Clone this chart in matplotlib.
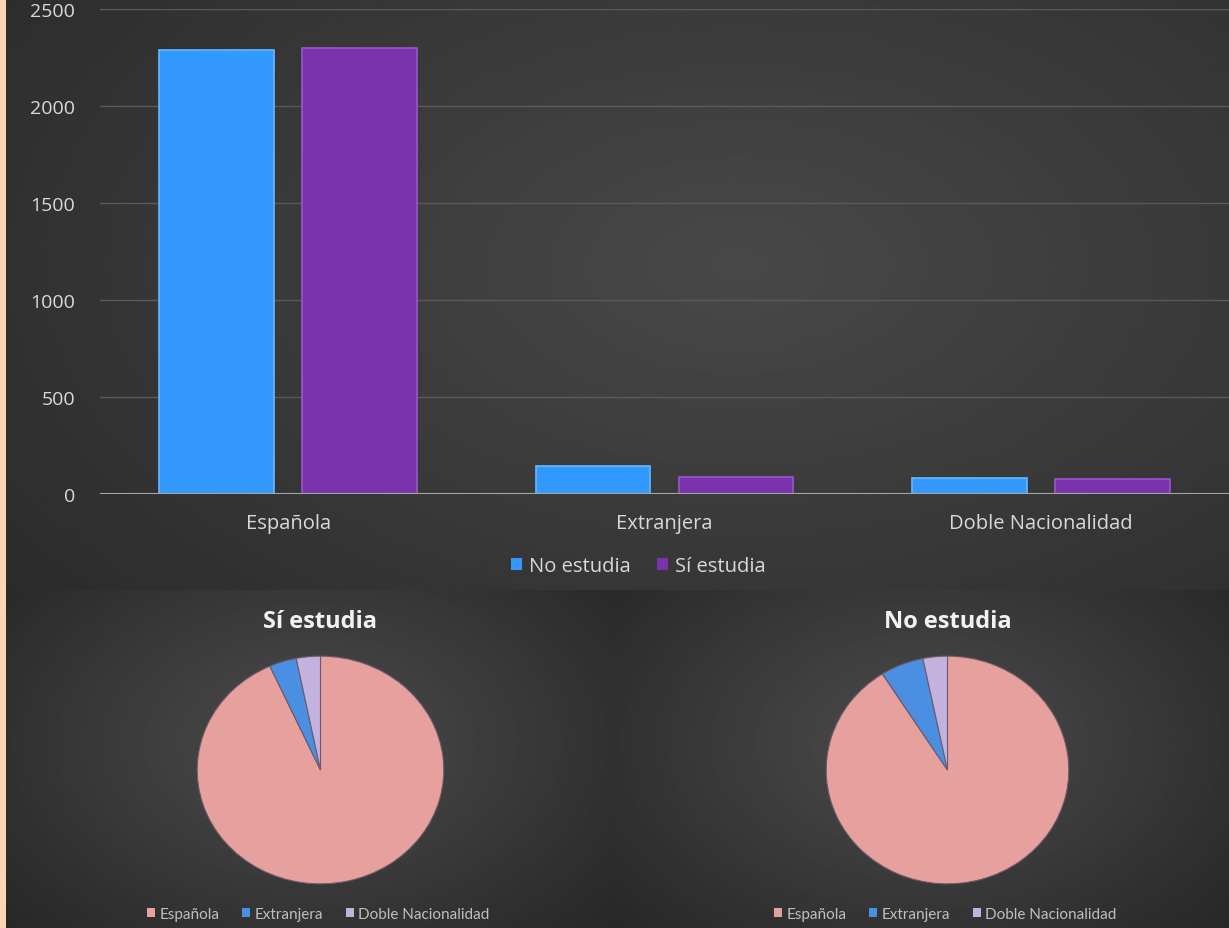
import numpy as np
import matplotlib
matplotlib.use("Agg")
import matplotlib.pyplot as plt
from matplotlib.patches import Rectangle, Patch

# Data
categories = ['Española', 'Extranjera', 'Doble Nacionalidad']
no_estudia = [2290, 145, 82]
si_estudia = [2300, 88, 78]
y_ticks = [0, 500, 1000, 1500, 2000, 2500]

bar_colors = {'No estudia': '#3399ff', 'Sí estudia': '#7a33ad'}
pie_colors = ['#e6a19f', '#4a8fe2', '#c3b1de']

plt.rcParams['font.family'] = ['Open Sans', 'DejaVu Sans']
W, H = 1229, 929
fig = plt.figure(figsize=(W / 100, H / 100), dpi=100, facecolor='#333333')


def px_axes(x0, y0, x1, y1, **kw):
    # axes from pixel box (top-left origin)
    return fig.add_axes([x0 / W, 1 - y1 / H, (x1 - x0) / W, (y1 - y0) / H], **kw)


def radial_bg(ax, cx, cy, light, dark, scale):
    yy, xx = np.mgrid[0:1:200j, 0:1:200j]
    d = np.sqrt(((xx - cx) / scale[0]) ** 2 + ((yy - cy) / scale[1]) ** 2)
    d = np.clip(d, 0, 1)
    img = light + (dark - light) * d
    ax.imshow(img, cmap='gray', vmin=0, vmax=1, extent=(0, 1, 0, 1),
              origin='upper', aspect='auto', interpolation='bilinear')
    ax.set_axis_off()


# panel backgrounds
bg_top = px_axes(6, 0, W, 591)
radial_bg(bg_top, 0.6, 0.45, 0.285, 0.165, (0.8, 0.95))
bg_l = px_axes(6, 591, 614, H)
radial_bg(bg_l, 0.5, 0.45, 0.30, 0.14, (0.75, 0.9))
bg_r = px_axes(614, 591, W, H)
radial_bg(bg_r, 0.5, 0.45, 0.30, 0.14, (0.75, 0.9))

# orange strip on the left
fig.patches.append(Rectangle((0, 0), 6 / W, 1, transform=fig.transFigure,
                             facecolor='#fcd5b5', edgecolor='none'))

# bar chart
ax = px_axes(100, 10, W, 495)
ax.patch.set_alpha(0)
x = np.arange(len(categories))
off, bw = 0.19, 0.305
ax.bar(x - off, no_estudia, bw, color=bar_colors['No estudia'],
       edgecolor='#66b8ff', linewidth=1.2, zorder=3)
ax.bar(x + off, si_estudia, bw, color=bar_colors['Sí estudia'],
       edgecolor='#9a55cc', linewidth=1.2, zorder=3)
ax.set_xlim(-0.5, 2.5)
ax.set_ylim(0, 2500)
ax.set_yticks(y_ticks)
ax.set_xticks(x)
ax.set_xticklabels(categories)
ax.grid(axis='y', color='#5a5a5a', linewidth=1, zorder=0)
ax.axhline(0, color='#a6a6a6', linewidth=1.5, zorder=4)
for s in ax.spines.values():
    s.set_visible(False)
ax.tick_params(axis='y', length=0, pad=18, labelsize=14, labelcolor='#d9d9d9')
ax.tick_params(axis='x', length=0, pad=14, labelsize=14.5, labelcolor='#d9d9d9')

handles = [Patch(facecolor=bar_colors[k], edgecolor='none') for k in bar_colors]
fig.legend(handles, list(bar_colors), loc='center', ncol=2,
           bbox_to_anchor=(638 / W, 1 - 567 / H), frameon=False,
           labelcolor='#d9d9d9', fontsize=14.5, handlelength=0.55,
           handleheight=0.55, handletextpad=0.35, columnspacing=1.3)

# pie charts
pies = [('Sí estudia', si_estudia, (196, 656, 445, 886)),
        ('No estudia', no_estudia, (825, 656, 1070, 886))]
for title, vals, box in pies:
    pax = px_axes(*box)
    pax.pie(vals, colors=pie_colors, startangle=90, counterclock=False,
            radius=1, wedgeprops=dict(edgecolor='#6e5a6a', linewidth=0.8))
    pax.set_aspect('auto')
    pax.set_xlim(-1.01, 1.01)
    pax.set_ylim(-1.01, 1.01)
    cx = (box[0] + box[2]) / 2
    fig.text(cx / W, 1 - 622 / H, title, ha='center', va='center',
             fontsize=17, fontweight='bold', color='#f2f2f2')
    ph = [Patch(facecolor=c, edgecolor='none') for c in pie_colors]
    fig.legend(ph, categories, loc='center', ncol=3,
               bbox_to_anchor=((cx - 2) / W, 1 - 915 / H), frameon=False,
               labelcolor='#bfbfbf', handlelength=0.5,
               handleheight=0.5, handletextpad=0.3, columnspacing=1.5,
               prop={'family': ['Lato', 'DejaVu Sans'], 'size': 11})

fig.savefig('out.png', dpi=100, facecolor=fig.get_facecolor())
